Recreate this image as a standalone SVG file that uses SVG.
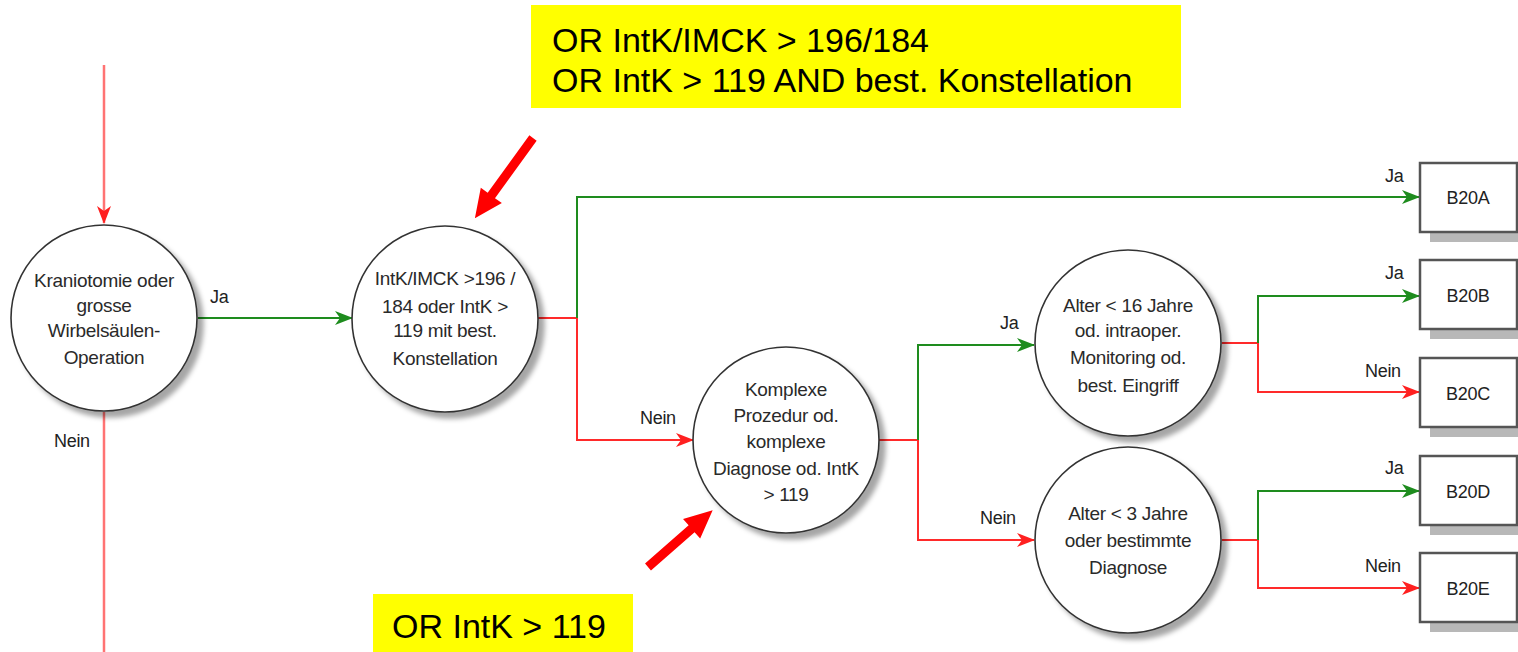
<svg xmlns="http://www.w3.org/2000/svg" width="1518" height="652" viewBox="0 0 1518 652">
<style>
.n{fill:#fff;stroke:#333;stroke-width:1.6}
.t{font-family:"Liberation Sans",Arial,sans-serif;font-size:19px;fill:#2a2a2a;text-anchor:middle;letter-spacing:-0.3px}
.l{font-family:"Liberation Sans",Arial,sans-serif;font-size:18px;fill:#222;letter-spacing:-0.3px}
.g{fill:none;stroke:#1e8c1e;stroke-width:2}
.r{fill:none;stroke:#ff2a2a;stroke-width:2}
.p{fill:none;stroke:#ff7373;stroke-width:2.5}
.b{fill:#fff;stroke:#555;stroke-width:2.5}
.bs{fill:#b8b8b8}
.bt{font-family:"Liberation Sans",Arial,sans-serif;font-size:18px;fill:#222;text-anchor:middle;letter-spacing:-0.3px}
.y{fill:#ffff00}
.yt{font-family:"Liberation Sans",Arial,sans-serif;font-size:34px;fill:#000}
</style>
<defs>
<filter id="sh" x="-20%" y="-20%" width="150%" height="150%">
<feDropShadow dx="6" dy="6" stdDeviation="2.5" flood-color="#000" flood-opacity="0.35"/>
</filter>
<marker id="ag" markerWidth="18" markerHeight="14" refX="17" refY="7" orient="auto" markerUnits="userSpaceOnUse">
<path d="M0,0 L18,7 L0,14 L5,7 z" fill="#1e8c1e"/>
</marker>
<marker id="ar" markerWidth="18" markerHeight="14" refX="17" refY="7" orient="auto" markerUnits="userSpaceOnUse">
<path d="M0,0 L18,7 L0,14 L5,7 z" fill="#ff2020"/>
</marker>
</defs>

<g id="connectors">
<path class="p" d="M104,65 V223" marker-end="url(#ar)"/>
<path class="p" d="M104,412 V652"/>
<path class="g" d="M198,318 H352" marker-end="url(#ag)"/>
<path class="r" d="M538,318 H577 V440 H693" marker-end="url(#ar)"/>
<path class="g" d="M577,318 V197 H1419" marker-end="url(#ag)"/>
<path class="r" d="M879,440 H918 V540 H1034" marker-end="url(#ar)"/>
<path class="g" d="M918,440 V345 H1034" marker-end="url(#ag)"/>
<path class="r" d="M1222,343 H1258 V392 H1419" marker-end="url(#ar)"/>
<path class="g" d="M1258,343 V296 H1419" marker-end="url(#ag)"/>
<path class="r" d="M1222,540 H1258 V588 H1419" marker-end="url(#ar)"/>
<path class="g" d="M1258,540 V491 H1419" marker-end="url(#ag)"/>
<text class="l" x="210" y="303">Ja</text>
<text class="l" x="54" y="447">Nein</text>
<text class="l" x="640" y="424">Nein</text>
<text class="l" x="1000" y="329">Ja</text>
<text class="l" x="980" y="524">Nein</text>
<text class="l" x="1385" y="182">Ja</text>
<text class="l" x="1385" y="279">Ja</text>
<text class="l" x="1365" y="377">Nein</text>
<text class="l" x="1385" y="474">Ja</text>
<text class="l" x="1365" y="572">Nein</text>
</g>

<g id="node-kraniotomie">
<circle class="n" cx="104" cy="318" r="93" filter="url(#sh)"/>
<text class="t" x="104" y="287">Kraniotomie oder</text>
<text class="t" x="104" y="312">grosse</text>
<text class="t" x="104" y="337">Wirbelsäulen-</text>
<text class="t" x="104" y="364">Operation</text>
</g>

<g id="node-intk">
<circle class="n" cx="445" cy="319" r="93" filter="url(#sh)"/>
<text class="t" x="445" y="285">IntK/IMCK &gt;196 /</text>
<text class="t" x="445" y="313">184 oder IntK &gt;</text>
<text class="t" x="445" y="337">119 mit best.</text>
<text class="t" x="445" y="365">Konstellation</text>
</g>

<g id="node-komplexe">
<circle class="n" cx="786" cy="440" r="93" filter="url(#sh)"/>
<text class="t" x="786" y="396">Komplexe</text>
<text class="t" x="786" y="422">Prozedur od.</text>
<text class="t" x="786" y="448">komplexe</text>
<text class="t" x="786" y="475">Diagnose od. IntK</text>
<text class="t" x="786" y="501">&gt; 119</text>
</g>

<g id="node-alter16">
<circle class="n" cx="1128" cy="343" r="93" filter="url(#sh)"/>
<text class="t" x="1128" y="312">Alter &lt; 16 Jahre</text>
<text class="t" x="1128" y="337">od. intraoper.</text>
<text class="t" x="1128" y="364">Monitoring od.</text>
<text class="t" x="1128" y="392">best. Eingriff</text>
</g>

<g id="node-alter3">
<circle class="n" cx="1128" cy="540" r="93" filter="url(#sh)"/>
<text class="t" x="1128" y="520">Alter &lt; 3 Jahre</text>
<text class="t" x="1128" y="547">oder bestimmte</text>
<text class="t" x="1128" y="574">Diagnose</text>
</g>

<g id="node-b20a">
<rect class="bs" x="1430" y="173" width="97" height="69"/>
<rect class="b" x="1420" y="163" width="97" height="69"/>
<text class="bt" x="1468" y="204">B20A</text>
</g>
<g id="node-b20b">
<rect class="bs" x="1430" y="270" width="97" height="69"/>
<rect class="b" x="1420" y="260" width="97" height="69"/>
<text class="bt" x="1468" y="302">B20B</text>
</g>
<g id="node-b20c">
<rect class="bs" x="1430" y="368" width="97" height="69"/>
<rect class="b" x="1420" y="358" width="97" height="69"/>
<text class="bt" x="1468" y="400">B20C</text>
</g>
<g id="node-b20d">
<rect class="bs" x="1430" y="466" width="97" height="69"/>
<rect class="b" x="1420" y="456" width="97" height="69"/>
<text class="bt" x="1468" y="498">B20D</text>
</g>
<g id="node-b20e">
<rect class="bs" x="1430" y="563" width="97" height="69"/>
<rect class="b" x="1420" y="553" width="97" height="69"/>
<text class="bt" x="1468" y="595">B20E</text>
</g>

<g id="note-top">
<rect class="y" x="531" y="5" width="650" height="103"/>
<text class="yt" x="552" y="52">OR IntK/IMCK &gt; 196/184</text>
<text class="yt" x="552" y="92">OR IntK &gt; 119 AND best. Konstellation</text>
<path d="M0,-4.5 L71,-4.5 L71,-13 L99,0 L71,13 L71,4.5 L0,4.5 z" fill="#ff0000" transform="translate(533,138) rotate(125.94)"/>
</g>

<g id="note-bottom">
<rect class="y" x="373" y="594" width="260" height="58"/>
<text class="yt" x="392" y="638">OR IntK &gt; 119</text>
<path d="M0,-4.5 L58,-4.5 L58,-13 L86,0 L58,13 L58,4.5 L0,4.5 z" fill="#ff0000" transform="translate(648,567) rotate(-41.25)"/>
</g>
</svg>
